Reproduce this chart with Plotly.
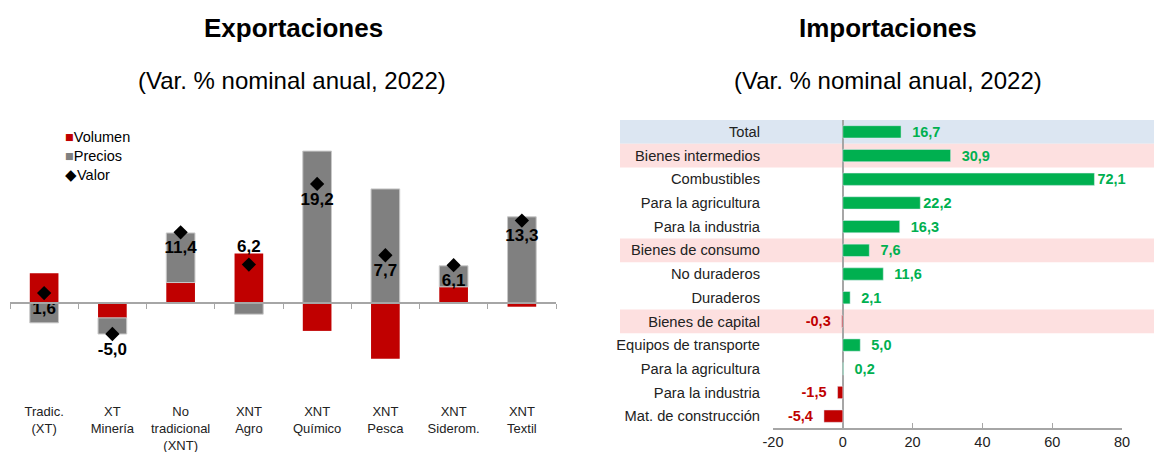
import plotly.graph_objects as go

# Exportaciones data
exp_cats = ["Tradic.<br>(XT)", "XT<br>Minería", "No<br>tradicional<br>(XNT)", "XNT<br>Agro",
            "XNT<br>Químico", "XNT<br>Pesca", "XNT<br>Siderom.", "XNT<br>Textil"]
volumen = [4.8, -2.4, 3.3, 8.0, -4.5, -9.0, 2.6, -0.6]
precios = [-3.2, -2.6, 8.0, -1.8, 24.5, 18.4, 3.4, 13.9]
valor = [1.6, -5.0, 11.4, 6.2, 19.2, 7.7, 6.1, 13.3]
valor_pos = ["bottom center", "bottom center", "bottom center", "top center",
             "bottom center", "bottom center", "bottom center", "bottom center"]

# Importaciones data
imp_cats = ["Total", "Bienes intermedios", "Combustibles", "Para la agricultura", "Para la industria",
            "Bienes de consumo", "No duraderos", "Duraderos", "Bienes de capital",
            "Equipos de transporte", "Para la agricultura", "Para la industria", "Mat. de construcción"]
imp_vals = [16.7, 30.9, 72.1, 22.2, 16.3, 7.6, 11.6, 2.1, -0.3, 5.0, 0.2, -1.5, -5.4]
imp_ticks = [-20, 0, 20, 40, 60, 80]
imp_ticktext = ["-20", "0", "20", "40", "60", "80"]
band_rows = {0: "#dce6f2", 1: "#fde0e0", 5: "#fde0e0", 8: "#fde0e0"}

W, H = 1154, 452
RED, GRAY, GREEN = "#c00000", "#808080", "#00b050"
FONT = "Liberation Sans, Arial, sans-serif"

def px_x(p):
    return p / W

def px_y(p):
    return 1 - p / H

exp_yr = [-10, 30]
exp_dom = [px_y(365), px_y(117)]
zero_pos = exp_dom[0] + (0 - exp_yr[0]) / (exp_yr[1] - exp_yr[0]) * (exp_dom[1] - exp_dom[0])
exp_xr = [-0.5, len(exp_cats) - 0.5]

fig = go.Figure()

fig.add_trace(go.Bar(x=exp_cats, y=volumen, name="Volumen", marker=dict(color=RED, line=dict(width=0)),
                     showlegend=False, xaxis="x", yaxis="y"))
fig.add_trace(go.Bar(x=exp_cats, y=precios, name="Precios",
                     marker=dict(color=GRAY, line=dict(color="#c8c8c8", width=1)),
                     showlegend=False, xaxis="x", yaxis="y"))
fig.add_trace(go.Scatter(x=exp_cats, y=valor, name="Valor", mode="markers+text",
                         marker=dict(symbol="diamond", color="black", size=11),
                         texttemplate="%{y:.1f}", textposition=valor_pos,
                         textfont=dict(size=17, color="black", family=FONT, weight="bold"),
                         cliponaxis=False, showlegend=False, xaxis="x", yaxis="y"))
# invisible trace to carry the zero-line axis
fig.add_trace(go.Scatter(x=exp_cats, y=[0] * len(exp_cats), mode="markers", marker=dict(opacity=0),
                         showlegend=False, hoverinfo="skip", xaxis="x2", yaxis="y"))

imp_idx = list(range(len(imp_cats)))
imp_colors = [GREEN if v >= 0 else RED for v in imp_vals]
# label padding (Excel leaves a gap for most labels, none for 22,2 and 72,1)
gap = "\u00a0\u00a0"
imp_templates = []
for i, v in enumerate(imp_vals):
    if v < 0:
        imp_templates.append("%{x:.1f}" + gap)
    elif i in (2, 3):
        imp_templates.append("%{x:.1f}")
    else:
        imp_templates.append(gap + "%{x:.1f}")
fig.add_trace(go.Bar(x=imp_vals, y=imp_idx, orientation="h", marker=dict(color=imp_colors),
                     texttemplate=imp_templates, textposition="outside", constraintext="none",
                     textfont=dict(size=14.5, color=imp_colors, family=FONT, weight="bold"),
                     cliponaxis=False, showlegend=False, width=0.52, xaxis="x3", yaxis="y3"))

for row, col in band_rows.items():
    fig.add_shape(type="rect", xref="paper", yref="y3", x0=px_x(620), x1=1.0,
                  y0=row - 0.5, y1=row + 0.5, fillcolor=col, line=dict(width=0), layer="below")

legend_items = [("■", RED, "Volumen"), ("■", GRAY, "Precios"), ("◆", "black", "Valor")]
annotations = []
for i, (sym, col, label) in enumerate(legend_items):
    annotations.append(dict(text=f"<span style='color:{col}'>{sym}</span>{label}",
                            x=px_x(63), y=px_y(137 + 19 * i), xref="paper", yref="paper",
                            xanchor="left", yanchor="middle", showarrow=False, font=dict(size=14.5)))

for txt, cx, cy, sz in [("<b>Exportaciones</b>", 293, 28, 26), ("(Var. % nominal anual, 2022)", 292, 80, 24),
                        ("<b>Importaciones</b>", 888, 28, 26), ("(Var. % nominal anual, 2022)", 888, 80, 24)]:
    annotations.append(dict(text=txt, x=px_x(cx), y=px_y(cy), xref="paper", yref="paper",
                            xanchor="center", yanchor="middle", showarrow=False, font=dict(size=sz)))

fig.update_layout(
    width=W, height=H, margin=dict(l=0, r=0, t=0, b=0, autoexpand=False),
    plot_bgcolor="rgba(0,0,0,0)", paper_bgcolor="white",
    font=dict(family=FONT, color="black", size=13),
    separators=",.", barmode="relative", bargap=0.58, showlegend=False,
    xaxis=dict(domain=[px_x(10), px_x(556)], anchor="free", position=px_y(402), range=exp_xr,
               showline=False, ticks="", showgrid=False, automargin=False,
               tickfont=dict(size=13, color="#222")),
    xaxis2=dict(domain=[px_x(10), px_x(556)], matches="x", overlaying="x", anchor="free",
                position=zero_pos, showline=True, linecolor="#a6a6a6", linewidth=1.5,
                ticks="outside", tickson="boundaries", ticklen=5, tickcolor="#a6a6a6",
                showticklabels=False, showgrid=False, automargin=False),
    yaxis=dict(domain=exp_dom, range=exp_yr, visible=False, zeroline=False, showgrid=False,
               automargin=False),
    xaxis3=dict(domain=[px_x(773), px_x(1122)], anchor="y3", range=[-20, 80],
                tickvals=imp_ticks, ticktext=imp_ticktext, automargin=False,
                showline=True, linecolor="#a6a6a6", linewidth=1.5, ticks="inside", ticklen=5,
                tickcolor="#a6a6a6", showgrid=False, zeroline=True, zerolinecolor="#a6a6a6",
                zerolinewidth=1.5, tickfont=dict(size=14.5, color="#222")),
    yaxis3=dict(domain=[px_y(428), px_y(120)], anchor="x3", range=[len(imp_cats) - 0.5, -0.5],
                tickvals=imp_idx, ticktext=imp_cats, ticks="", showgrid=False, showline=False,
                zeroline=False, ticklabelstandoff=12, automargin=False,
                tickfont=dict(size=14.7, color="#222")),
    annotations=annotations,
)

fig.write_html("out.html", config={"displayModeBar": False},
               post_script="document.documentElement.style.overflow='hidden';"
                           "document.body.style.margin='0';document.body.style.overflow='hidden';")
